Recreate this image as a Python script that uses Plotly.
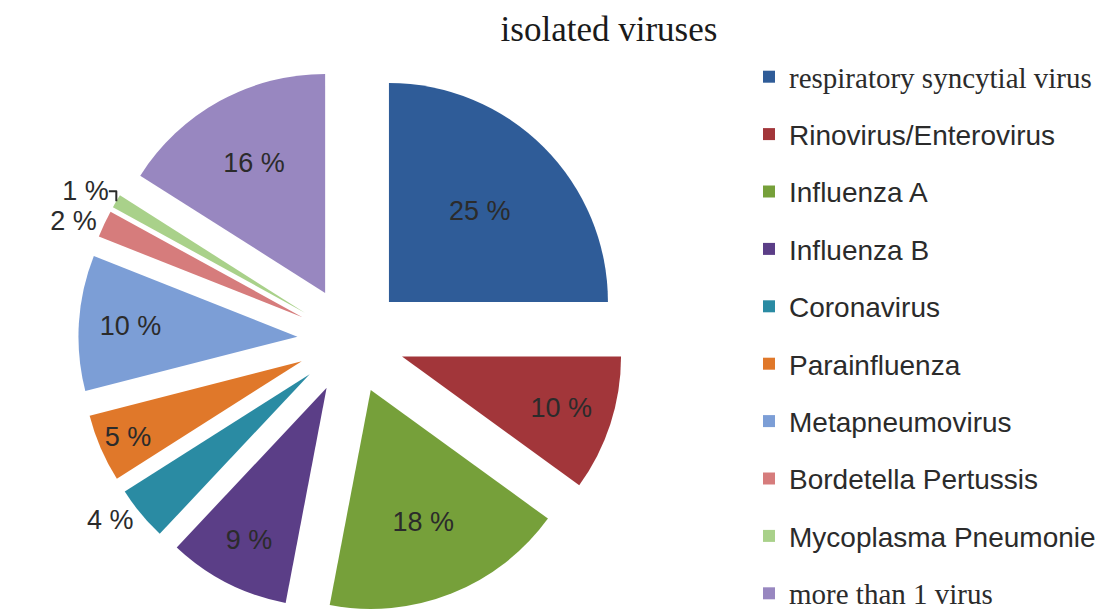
import plotly.graph_objects as go

labels = ["respiratory syncytial virus", "Rinovirus/Enterovirus", "Influenza A",
          "Influenza B", "Coronavirus", "Parainfluenza", "Metapneumovirus",
          "Bordetella Pertussis", "Mycoplasma Pneumonie", "more than 1 virus"]
values = [25, 10, 18, 9, 4, 5, 10, 2, 1, 16]
colors = ["#2F5C98", "#A2363A", "#76A03A", "#5B3E87", "#2A8BA3",
          "#E0782A", "#7C9ED6", "#D67C7C", "#A9D18A", "#9887C0"]
text_pos = ["inside", "inside", "inside", "inside", "outside", "inside",
            "inside", "outside", "outside", "inside"]
serif_items = {"respiratory syncytial virus", "more than 1 virus"}

W, H = 1113, 612
CX, CY, R, PULL = 343, 332, 219, 0.245
half = R * (1 + PULL)

fig = go.Figure()
fig.add_trace(go.Pie(
    labels=labels, values=values, sort=False, direction="clockwise", rotation=0,
    marker=dict(colors=colors, line=dict(width=0)),
    pull=PULL, textposition=text_pos, insidetextorientation="horizontal",
    texttemplate="%{value} %", textinfo="text",
    textfont=dict(family="Liberation Sans, Arial", size=27, color="#2b2b2b"),
    showlegend=False,
    domain=dict(x=[(CX - half) / W, (CX + half) / W],
                y=[(H - CY - half) / H, (H - CY + half) / H]),
))

for lab, col in zip(labels, colors):
    if lab in serif_items:
        name = "<span style='font-family:Liberation Serif;font-size:29px'>" + lab + "</span>"
    else:
        name = lab
    fig.add_trace(go.Scatter(
        x=[None], y=[None], mode="markers", name=name, legendgroup=lab,
        marker=dict(symbol="square", size=14, color=col),
        showlegend=True,
    ))

fig.update_layout(
    width=W, height=H, margin=dict(l=0, r=0, t=0, b=0, autoexpand=False),
    paper_bgcolor="white", plot_bgcolor="white",
    xaxis=dict(visible=False), yaxis=dict(visible=False),
    title=dict(text="isolated viruses", x=601 / W, xanchor="center",
               y=1 - 21 / H, yanchor="middle",
               font=dict(family="Liberation Serif, Times New Roman", size=35, color="#1a1a1a")),
    legend=dict(x=741 / W, xanchor="left", y=1 - 44 / H, yanchor="top",
                tracegroupgap=18, traceorder="grouped", maxheight=800,
                font=dict(family="Liberation Sans, Arial", size=28, color="#2b2b2b"),
                itemsizing="constant"),
)
fig.write_html("out.html")
